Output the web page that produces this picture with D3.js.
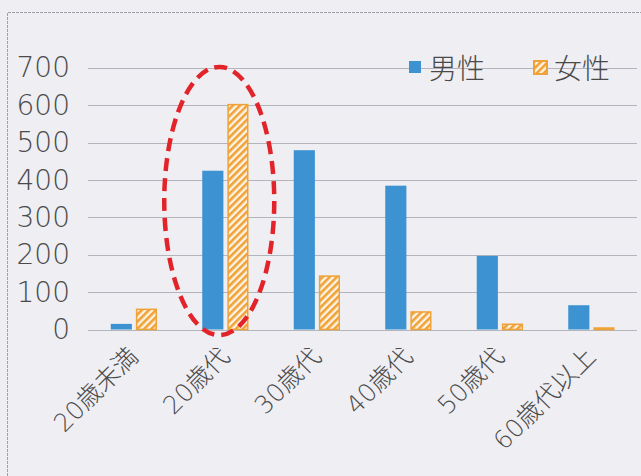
<!DOCTYPE html>
<html>
<head>
<meta charset="utf-8">
<script src="https://cdn.jsdelivr.net/npm/d3@7"></script>
<style>
  body { margin: 0; background: #eeeef3; }
  svg { display: block; }
</style>
</head>
<body>
<div id="chart"></div>
<script>
// chart values
var categories = ["20歳未満", "20歳代", "30歳代", "40歳代", "50歳代", "60歳代以上"];
var seriesNames = ["男性", "女性"];
var maleValues = [15, 425, 480, 385, 197, 65];
var femaleValues = [54, 602, 143, 47, 14, 4];
var yTicks = [0, 100, 200, 300, 400, 500, 600, 700];
var highlighted = "20歳代";

var svgWidth = 641;
var svgHeight = 476;

var colors = { "男性": "#3d93d2", "女性": "#f0a236" };
var numFont = "'DejaVu Sans', 'Noto Sans CJK JP', sans-serif";

var svg = d3.select("#chart")
  .append("svg")
  .attr("width", svgWidth)
  .attr("height", svgHeight);

// hatch pattern for the female bars
var defs = svg.append("defs");
var pat = defs.append("pattern")
  .attr("id", "hatch")
  .attr("patternUnits", "userSpaceOnUse")
  .attr("width", 5)
  .attr("height", 5)
  .attr("patternTransform", "rotate(45)");
pat.append("rect").attr("width", 5).attr("height", 5).attr("fill", "#fbf3e6");
pat.append("rect").attr("width", 2.6).attr("height", 5).attr("fill", colors["女性"]);

// scanned page frame
svg.append("path")
  .attr("d", "M7.5," + svgHeight + "V12.5H" + svgWidth)
  .attr("fill", "none")
  .attr("stroke", "#a0a0a8")
  .attr("stroke-width", 1)
  .attr("stroke-dasharray", "3,1");

var xScale = d3.scaleBand()
  .domain(categories)
  .range([88, 637]);

var groupWidth = 46;
var xInner = d3.scaleBand()
  .domain(seriesNames)
  .range([0, groupWidth])
  .paddingInner(0.15);

var yScale = d3.scaleLinear()
  .domain([0, 700])
  .range([329.5, 68]);

// gridlines
svg.append("g")
  .selectAll("line")
  .data(yTicks)
  .enter()
  .append("line")
  .attr("x1", 88)
  .attr("x2", 637)
  .attr("y1", d => Math.round(yScale(d)) + 0.5)
  .attr("y2", d => Math.round(yScale(d)) + 0.5)
  .attr("stroke", "#b4b4bc")
  .attr("stroke-width", 1.2);

// y tick labels
var leftAxis = d3.axisLeft(yScale).tickValues(yTicks).tickSize(0).tickPadding(0);
var yAxisG = svg.append("g")
  .attr("transform", "translate(70,0)")
  .call(leftAxis);
yAxisG.select(".domain").remove();
yAxisG.selectAll("text")
  .attr("font-family", numFont)
  .attr("font-weight", 200)
  .attr("font-size", 28)
  .attr("fill", "#4a4a4a");

// bars
var rows = categories.map(function(c, i) {
  return { cat: c, values: [
    { name: "男性", value: maleValues[i] },
    { name: "女性", value: femaleValues[i] }
  ] };
});

var groups = svg.append("g")
  .selectAll("g")
  .data(rows)
  .enter()
  .append("g")
  .attr("transform", d => "translate(" + (xScale(d.cat) + (xScale.bandwidth() - groupWidth) / 2) + ",0)");

groups.selectAll("rect")
  .data(d => d.values)
  .enter()
  .append("rect")
  .attr("x", d => xInner(d.name) + (d.name === "女性" ? 1 : 0))
  .attr("width", d => xInner.bandwidth() - (d.name === "女性" ? 1.5 : 0))
  .attr("y", d => yScale(d.value))
  .attr("height", d => yScale(0) - yScale(d.value))
  .attr("fill", d => d.name === "男性" ? colors["男性"] : "url(#hatch)")
  .attr("stroke", d => d.name === "女性" ? colors["女性"] : "none")
  .attr("stroke-width", 1.5);

// x labels (rotated)
svg.append("g")
  .selectAll("text")
  .data(categories)
  .enter()
  .append("text")
  .attr("transform", d => "translate(" + (xScale(d) + xScale.bandwidth() / 2 + 6) + ",358) rotate(-45)")
  .attr("text-anchor", "end")
  .attr("font-family", numFont)
  .attr("font-weight", 200)
  .attr("font-size", 25)
  .attr("fill", "#4a4a4a")
  .text(d => d);

// legend
var legend = svg.append("g");
legend.append("rect")
  .attr("x", 409).attr("y", 61).attr("width", 12).attr("height", 12)
  .attr("fill", colors["男性"]);
legend.append("text")
  .attr("x", 429).attr("y", 67)
  .attr("dominant-baseline", "central")
  .attr("font-family", "'Noto Sans CJK JP', sans-serif")
  .attr("font-weight", 300)
  .attr("font-size", 28)
  .attr("fill", "#4a4a4a")
  .text("男性");
legend.append("rect")
  .attr("x", 534).attr("y", 61).attr("width", 13).attr("height", 13)
  .attr("fill", "url(#hatch)")
  .attr("stroke", colors["女性"])
  .attr("stroke-width", 2);
legend.append("text")
  .attr("x", 554).attr("y", 67)
  .attr("dominant-baseline", "central")
  .attr("font-family", "'Noto Sans CJK JP', sans-serif")
  .attr("font-weight", 300)
  .attr("font-size", 28)
  .attr("fill", "#4a4a4a")
  .text("女性");

// red dashed highlight around the 20歳代 group
var ellCx = xScale(highlighted) + xScale.bandwidth() / 2 - 6;
var ellTop = yScale(703), ellBottom = yScale(-15);
svg.append("ellipse")
  .attr("cx", ellCx)
  .attr("cy", (ellTop + ellBottom) / 2)
  .attr("rx", 55)
  .attr("ry", (ellBottom - ellTop) / 2)
  .attr("fill", "none")
  .attr("stroke", "#e2242a")
  .attr("stroke-width", 4.5)
  .attr("stroke-dasharray", "13,7");
</script>
</body>
</html>
